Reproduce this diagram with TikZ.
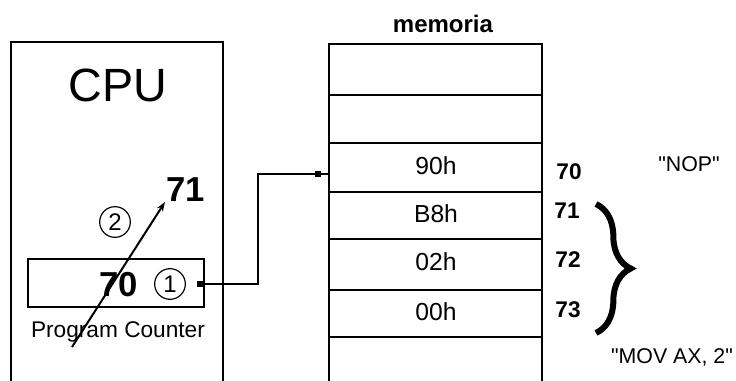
\documentclass[tikz,border=0pt]{standalone}
\usepackage{fontspec}
\setmainfont{Liberation Sans}
\newfontfamily\qfont{Liberation Sans}[Ligatures=TeXOff]
\usetikzlibrary{decorations.pathreplacing,arrows.meta}
\begin{document}
\begin{tikzpicture}[x=0.75pt,y=-0.75pt,
  thickline/.style={line width=1.8pt,line cap=rect},
  thinline/.style={line width=0.8pt},
  txt/.style={inner sep=0pt,anchor=center},
  cpufont/.style={txt,font=\fontsize{35}{35}\selectfont},
  bignum/.style={txt,font=\bfseries\fontsize{26}{26}\selectfont},
  pcfont/.style={inner sep=0pt,anchor=base,font=\fontsize{17}{17}\selectfont},
  memtitle/.style={txt,font=\bfseries\fontsize{18}{18}\selectfont},
  cellfont/.style={txt,font=\fontsize{18.5}{18.5}\selectfont},
  addrfont/.style={txt,font=\bfseries\fontsize{17}{17}\selectfont},
  quotefont/.style={txt,font=\qfont\fontsize{16}{16}\selectfont},
  circ/.style={circle,draw,line width=0.9pt,inner sep=0pt,minimum size=23pt,font=\fontsize{18}{18}\selectfont},
  dotmark/.style={fill=black,inner sep=0pt,minimum size=4.5pt,draw=none,rectangle}]
\useasboundingbox (0,0) rectangle (736,381);
% CPU box
\draw[thickline] (11,390) -- (11,42) -- (223,42) -- (223,390);
\node[cpufont] (cpu) at (118,85) {CPU};
% program counter box
\node[draw,thinline,minimum width=176*0.75pt,minimum height=48*0.75pt,inner sep=0pt] (pc) at (116,283) {};
\node[bignum] (pcval) at (119,285) {70};
\node[circ] (one) at (170,284) {1};
\node[pcfont] (pclabel) at (118,337) {Program Counter};
\node[bignum] (next) at (186,190) {71};
\node[circ] (two) at (115,222) {2};
\coordinate (arrstart) at (72,347);
\coordinate (arrend) at (165,202);
\draw[line width=1.5pt,-{Stealth[length=7pt,width=5pt]}] (arrstart) -- (arrend);
% memory
\node[memtitle] (memtitle) at (443,24) {memoria};
\draw[thickline] (329,390) -- (329,44);
\draw[thickline] (542,390) -- (542,44);
\foreach \yy in {44,95,143,192,239,290,337} \draw[thinline] (329,\yy) -- (542,\yy);
\node[cellfont] (c90) at (436,166) {90h};
\node[cellfont] (cb8) at (436,214) {B8h};
\node[cellfont] (c02) at (436,262) {02h};
\node[cellfont] (c00) at (436,312) {00h};
% connector
\node[dotmark] (pcdot) at (200,284) {};
\coordinate (bend) at (258,174);
\coordinate (memin) at (329,174);
\node[dotmark] (memdot) at (318,174) {};
\draw[line width=1.5pt] (pcdot.center) -| (bend) -- (memin);
% addresses
\node[addrfont] (a70) at (569,172) {70};
\node[addrfont] (a71) at (567,211) {71};
\node[addrfont] (a72) at (568,260) {72};
\node[addrfont] (a73) at (568,310) {73};
\node[quotefont] (nop) at (689,164) {"NOP"};
\node[quotefont] (mov) at (672,357) {"MOV AX, 2"};
\coordinate (bracetop) at (596,204);
\coordinate (bracebot) at (596,333);
\draw[line width=4.5pt,decorate,decoration={brace,amplitude=26pt,aspect=0.5}] (bracetop) -- (bracebot);
\end{tikzpicture}
\end{document}
